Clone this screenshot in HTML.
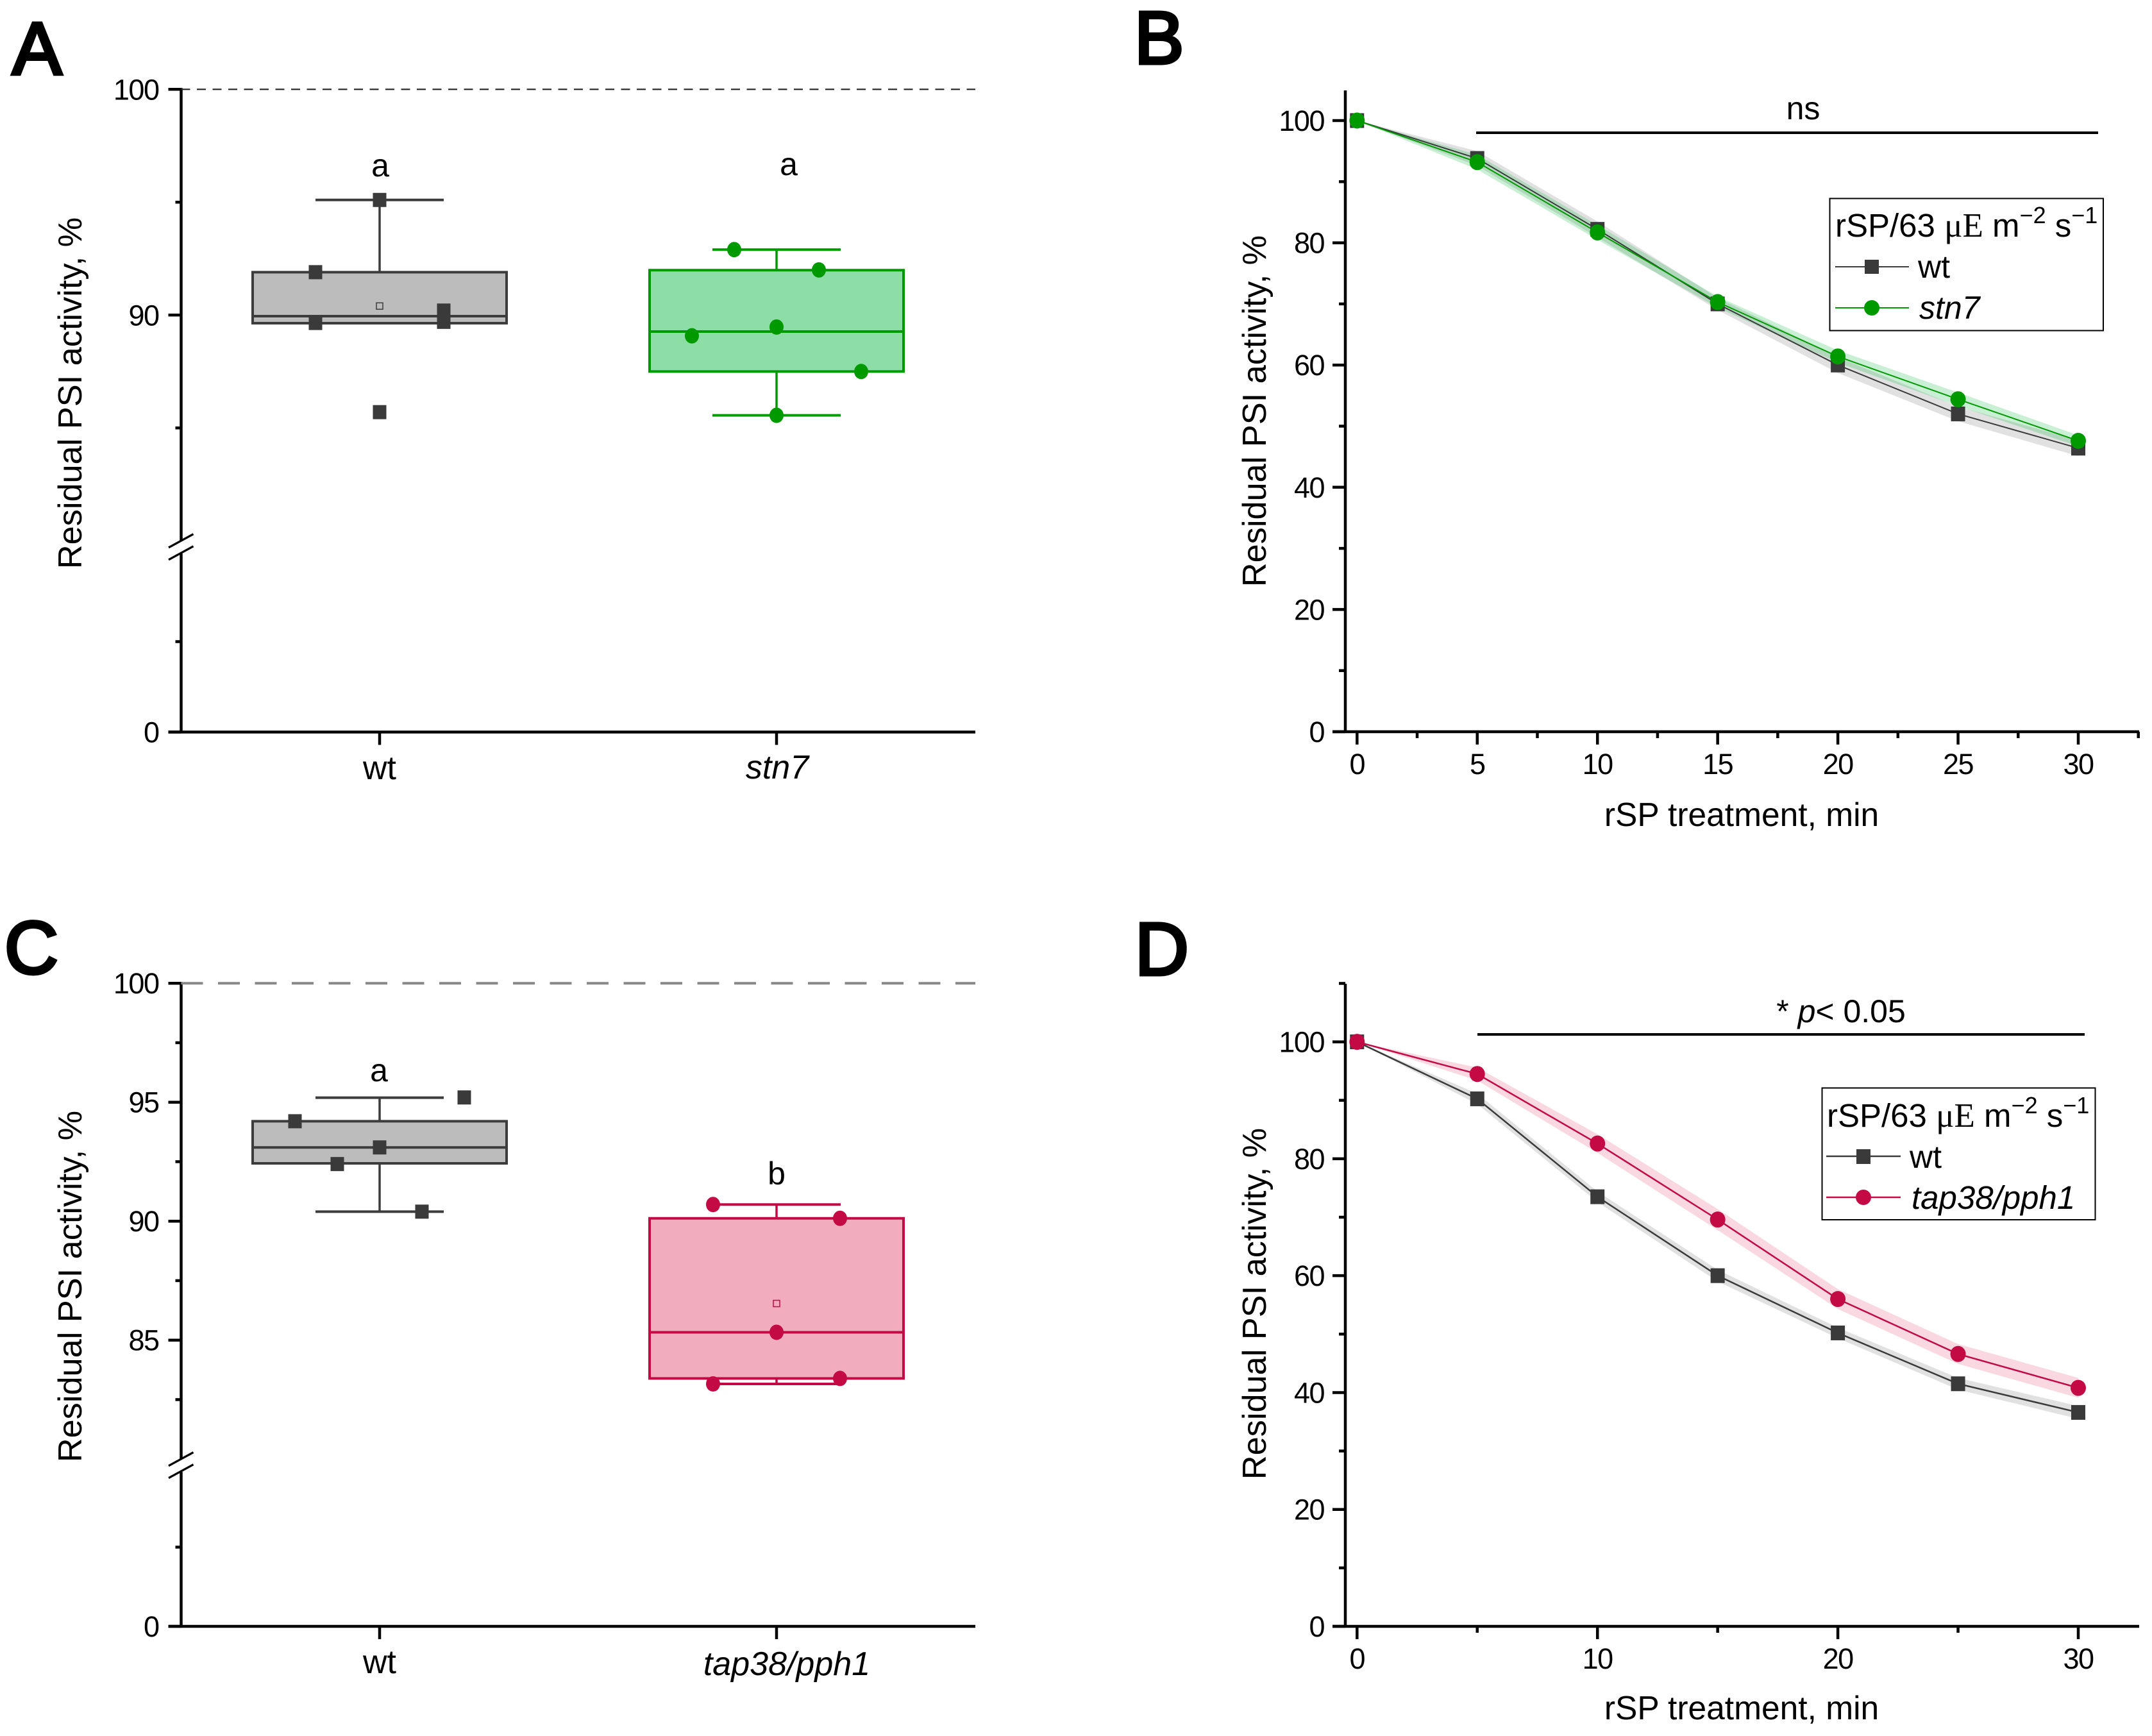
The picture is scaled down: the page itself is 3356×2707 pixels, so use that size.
<!DOCTYPE html>
<html lang="en">
<head>
<meta charset="utf-8">
<title>Residual PSI activity panels</title>
<style>
html,body{margin:0;padding:0;background:#fff;}
svg{display:block;}
text{font-family:"Liberation Sans",Arial,sans-serif;fill:#000;}
.serif{font-family:"Liberation Serif","Times New Roman",serif;}
.letter{font-weight:normal;font-size:116px;stroke:#000;stroke-width:5px;}
.title{font-size:51.5px;}
.ytitle{font-size:52.3px;}
.leg{font-size:50px;}
.legt{font-size:51px;}
</style>
</head>
<body>
<svg id="figure" xmlns="http://www.w3.org/2000/svg" width="3356" height="2707" viewBox="0 0 3356 2707">
<rect x="0" y="0" width="3356" height="2707" fill="#ffffff"/>

<g id="panelA">
  <text class="letter" x="19" y="116">A</text>
  <text class="ytitle" transform="translate(127 613) rotate(-90)" text-anchor="middle">Residual PSI activity, %</text>
  <text class="leg" x="593" y="275" text-anchor="middle">a</text>
  <text class="leg" x="1230" y="273" text-anchor="middle">a</text>
</g>

<g id="panelB">
  <text class="letter" x="1769" y="99">B</text>
  <text class="ytitle" transform="translate(1974 641) rotate(-90)" text-anchor="middle">Residual PSI activity, %</text>
  <text class="title" x="2716" y="1288" text-anchor="middle">rSP treatment, min</text>
  <line x1="2302" y1="207" x2="3272" y2="207" stroke="#000" stroke-width="4"/>
  <text class="leg" x="2812" y="186" text-anchor="middle">ns</text>
</g>

<g id="panelC">
  <text class="letter" x="7" y="1518">C</text>
  <text class="ytitle" transform="translate(127 2006) rotate(-90)" text-anchor="middle">Residual PSI activity, %</text>
  <text class="leg" x="591" y="1686" text-anchor="middle">a</text>
  <text class="leg" x="1211" y="1847" text-anchor="middle">b</text>
</g>

<g id="panelD">
  <text class="letter" x="1770" y="1520">D</text>
  <text class="ytitle" transform="translate(1974 2033) rotate(-90)" text-anchor="middle">Residual PSI activity, %</text>
  <text class="title" x="2716" y="2681" text-anchor="middle">rSP treatment, min</text>
  <line x1="2304" y1="1613" x2="3251" y2="1613" stroke="#000" stroke-width="4"/>
  <text class="leg" x="2871" y="1594" text-anchor="middle">* <tspan font-style="italic">p</tspan>&lt; 0.05</text>
</g>

<g id="legendB">
  <rect x="2853.5" y="309.5" width="426.5" height="206" fill="#fff" stroke="#000" stroke-width="2"/>
  <text class="legt" x="2862" y="369">rSP/63 <tspan class="serif" font-size="53">μE</tspan> m<tspan font-size="36" dy="-21">−2</tspan><tspan dy="21"> s</tspan><tspan font-size="36" dy="-21">−1</tspan></text>
  <line x1="2862" y1="416" x2="2977" y2="416" stroke="#3a3a3a" stroke-width="2"/>
  <rect x="2908" y="405" width="22" height="22" fill="#3a3a3a"/>
  <text class="leg" x="2991" y="433">wt</text>
  <line x1="2862" y1="480" x2="2977" y2="480" stroke="#009a00" stroke-width="2"/>
  <circle cx="2919" cy="480" r="12" fill="#009a00"/>
  <text class="leg" x="2993" y="497" font-style="italic">stn7</text>
</g>

<g id="legendD">
  <rect x="2841.5" y="1696.5" width="426" height="205.5" fill="#fff" stroke="#000" stroke-width="2"/>
  <text class="legt" x="2849" y="1757">rSP/63 <tspan class="serif" font-size="53">μE</tspan> m<tspan font-size="36" dy="-21">−2</tspan><tspan dy="21"> s</tspan><tspan font-size="36" dy="-21">−1</tspan></text>
  <line x1="2848" y1="1803" x2="2964" y2="1803" stroke="#3a3a3a" stroke-width="2.5"/>
  <rect x="2895" y="1792" width="22" height="23" fill="#3a3a3a"/>
  <text class="leg" x="2978" y="1821">wt</text>
  <line x1="2848" y1="1867" x2="2964" y2="1867" stroke="#c40a45" stroke-width="2.5"/>
  <circle cx="2906" cy="1867" r="12" fill="#c40a45"/>
  <text class="legt" x="2981" y="1885" font-style="italic">tap38/pph1</text>
</g>
</svg>

<script>
/* ---------- Panel A data ---------- */
const aCategories = ['wt', 'stn7'];
const aTickLabels = [100, 90, 0];
const aMinorTicks = [95, 85, 10];
const aWtValues = [91.9, 89.65, 95.1, 85.7, 90.2, 89.7];
const aWtSlots = [-1, -1, 0, 0, 1, 1];
const aWtBox = [89.64, 89.95, 91.9, 89.64, 95.1];
const aWtMean = [90.4];
const aStnValues = [92.9, 92.0, 89.08, 89.47, 87.5, 85.56];
const aStnSlots = [-1, 1, -2, 0, 2, 0];
const aStnBox = [87.5, 89.27, 91.99, 85.56, 92.9];
const aStnMean = [];

/* ---------- Panel C data ---------- */
const cCategories = ['wt', 'tap38/pph1'];
const cTickLabels = [100, 95, 90, 85, 0];
const cMinorTicks = [97.5, 92.5, 87.5, 82.5, 10];
const cWtValues = [94.2, 92.4, 93.1, 90.4, 95.2];
const cWtSlots = [-2, -1, 0, 1, 2];
const cWtBox = [92.43, 93.1, 94.2, 90.4, 95.19];
const cWtMean = [];
const cTapValues = [90.7, 90.12, 85.33, 83.16, 83.39];
const cTapSlots = [-1, 1, 0, -1, 1];
const cTapBox = [83.39, 85.33, 90.12, 83.16, 90.7];
const cTapMean = [86.54];

/* ---------- Panel B data ---------- */
const bMinutes = [0, 5, 10, 15, 20, 25, 30];
const bWtValues = [100, 93.8, 82.2, 70, 60, 52, 46.4];
const bWtError = [0, 1.2, 1.3, 1.0, 1.3, 1.2, 1.3];
const bStnValues = [100, 93.2, 81.7, 70.3, 61.4, 54.4, 47.6];
const bStnError = [0, 1.2, 1.2, 0.9, 1.0, 1.1, 0.9];
const bXMajor = [0, 5, 10, 15, 20, 25, 30];
const bXMinor = [2.5, 7.5, 12.5, 17.5, 22.5, 27.5, 32.5];
const bYMajor = [0, 20, 40, 60, 80, 100];
const bYMinor = [10, 30, 50, 70, 90];

/* ---------- Panel D data ---------- */
const dMinutes = [0, 5, 10, 15, 20, 25, 30];
const dWtValues = [100, 90.25, 73.5, 60, 50.2, 41.5, 36.6];
const dWtError = [0, 0.9, 0.9, 1.0, 0.9, 1.0, 1.1];
const dTapValues = [100, 94.5, 82.6, 69.6, 56, 46.6, 40.8];
const dTapError = [0, 1.1, 1.6, 1.8, 1.7, 1.7, 1.7];
const dXMajor = [0, 10, 20, 30];
const dXMinor = [5, 15, 25];
const dYMajor = [0, 20, 40, 60, 80, 100];
const dYMinor = [10, 30, 50, 70, 90, 110];

const NS = 'http://www.w3.org/2000/svg';
function mk(tag, attrs, parent, text) {
  const el = document.createElementNS(NS, tag);
  for (const k in attrs) { el.setAttribute(k, attrs[k]); }
  if (text !== undefined) { el.textContent = text; }
  parent.appendChild(el);
  return el;
}

/* scale factories */
function brokenY(y100, upper, y0, lower) {
  return function (v) { return v >= 80 ? y100 + (100 - v) * upper : y0 - v * lower; };
}
function linearX(x0, pxPerUnit) {
  return function (v) { return x0 + v * pxPerUnit; };
}
function linearY(y0, pxPerUnit) {
  return function (v) { return y0 - v * pxPerUnit; };
}
const BLACK = '#000';
const AXIS_W = 4.5;

/* ---------- Box panels ---------- */
function drawBoxAxes(g, y, xLeft, xRight, majors, minors, catX, cats, catBaselines, dash) {
  const yBase = y(0), yTop = y(100), yBreak = y(80), gap = 19;
  const axisX = xLeft;

  const upper = mk('line', {x1: axisX, x2: axisX, y1: yTop - 2, y2: yBreak - gap / 2 + 9, stroke: BLACK, 'stroke-width': AXIS_W}, g);
  
  

  const lower = mk('line', {x1: axisX, x2: axisX, y1: yBreak + gap + 1, y2: yBase, stroke: BLACK, 'stroke-width': AXIS_W}, g);
  
  

  [0, gap].forEach(function (off) {
    const s = mk('line', {x1: axisX - 19.5, x2: axisX + 19, y1: yBreak + off + 10.5, y2: yBreak + off - 10.5, stroke: BLACK, 'stroke-width': 3.2}, g);
    
    
  });

  const xAxis = mk('line', {x1: axisX - 20, x2: xRight, y1: yBase, y2: yBase, stroke: BLACK, 'stroke-width': AXIS_W}, g);
  
  

  const ref = mk('line', {x1: axisX, x2: xRight, y1: yTop, y2: yTop, stroke: dash.color, 'stroke-width': dash.width, 'stroke-dasharray': dash.pattern}, g);
  
  

  majors.forEach(function (v) {
    const t = mk('line', {x1: axisX - 20, x2: axisX, y1: y(v), y2: y(v), stroke: BLACK, 'stroke-width': AXIS_W}, g);
    
    
    const l = mk('text', {x: axisX - 35, y: y(v) + 16, 'text-anchor': 'end', 'font-size': 45, 'letter-spacing': -1.5}, g, String(v));
    
    
  });
  minors.forEach(function (v) {
    const t = mk('line', {x1: axisX - 9, x2: axisX, y1: y(v), y2: y(v), stroke: BLACK, 'stroke-width': AXIS_W}, g);
    
    
  });
  cats.forEach(function (c, i) {
    const t = mk('line', {x1: catX(i), x2: catX(i), y1: yBase, y2: yBase + 20, stroke: BLACK, 'stroke-width': AXIS_W}, g);
    
    
    const lx = i === 0 ? catX(i) : catX(i) + (c.length > 5 ? 16 : 1);
    const l = mk('text', {x: lx, y: catBaselines[i], 'text-anchor': 'middle', 'font-size': 52, 'font-style': i === 0 ? 'normal' : 'italic'}, g, c);
    
    
  });
}

/* boxStats = [q1, median, q3, whiskerLow, whiskerHigh] */
function drawBox(g, name, y, cx, boxStats, means, values, slots, slotGap, style) {
  const halfBox = 198, halfCap = 100;
  const q1 = boxStats[0], med = boxStats[1], q3 = boxStats[2], wLow = boxStats[3], wHigh = boxStats[4];

  const wU = mk('line', {x1: cx, x2: cx, y1: y(wHigh), y2: y(q3), stroke: style.stroke, 'stroke-width': 3.5}, g);
  
  

  const wL = mk('line', {x1: cx, x2: cx, y1: y(q1), y2: y(wLow), stroke: style.stroke, 'stroke-width': 3.5}, g);
  
  

  const capU = mk('line', {x1: cx - halfCap, x2: cx + halfCap, y1: y(wHigh), y2: y(wHigh), stroke: style.stroke, 'stroke-width': 4}, g);
  
  

  const capL = mk('line', {x1: cx - halfCap, x2: cx + halfCap, y1: y(wLow), y2: y(wLow), stroke: style.stroke, 'stroke-width': 4}, g);
  
  

  const box = mk('rect', {x: cx - halfBox, y: y(q3), width: 2 * halfBox, height: y(q1) - y(q3), fill: style.fill, stroke: style.stroke, 'stroke-width': 4}, g);
  
  

  const m = mk('line', {x1: cx - halfBox, x2: cx + halfBox, y1: y(med), y2: y(med), stroke: style.stroke, 'stroke-width': 4}, g);
  
  

  means.forEach(function (v) {
    const mean = mk('rect', {x: cx - 5, y: y(v) - 5, width: 10, height: 10, fill: 'none', stroke: style.stroke, 'stroke-width': 1.5}, g);
    
    
  });

  values.forEach(function (v, i) {
    const px = cx + slots[i] * slotGap;
    let p;
    if (style.marker === 'square') {
      p = mk('rect', {x: px - 10.5, y: y(v) - 11, width: 21, height: 22, fill: style.point}, g);
    } else {
      p = mk('ellipse', {cx: px, cy: y(v), rx: 11, ry: 12, fill: style.point}, g);
    }
    
    
  });
}

const greyStyle = {fill: '#bcbcbc', stroke: '#3c3c3c', point: '#3a3a3a', marker: 'square'};
const greenStyle = {fill: '#8cdda6', stroke: '#009a00', point: '#009a00', marker: 'circle'};
const redStyle = {fill: '#f1acbe', stroke: '#c40a45', point: '#c40a45', marker: 'circle'};

const catXBox = function (i) { return 592 + i * 619; };

const gA = document.getElementById('panelA');
const yA = brokenY(139.3, 35.2, 1141.5, 14.1);
drawBoxAxes(gA, yA, 282.5, 1521, aTickLabels, aMinorTicks, catXBox, aCategories, [1215, 1214],
  {color: '#222', width: 2.2, pattern: '14 10.5'});
drawBox(gA, 'wt-box', yA, catXBox(0), aWtBox, aWtMean, aWtValues, aWtSlots, 100, greyStyle);
drawBox(gA, 'stn7-box', yA, catXBox(1), aStnBox, aStnMean, aStnValues, aStnSlots, 66, greenStyle);

const gC = document.getElementById('panelC');
const yC = brokenY(1533.2, 37.1, 2536, 12.35);
drawBoxAxes(gC, yC, 282.5, 1521, cTickLabels, cMinorTicks, catXBox, cCategories, [2609, 2612],
  {color: '#888', width: 4, pattern: '34 23.5'});
drawBox(gC, 'wt-box', yC, catXBox(0), cWtBox, cWtMean, cWtValues, cWtSlots, 66, greyStyle);
drawBox(gC, 'tap38-box', yC, catXBox(1), cTapBox, cTapMean, cTapValues, cTapSlots, 99, redStyle);

/* ---------- Line panels ---------- */
function drawLineAxes(g, x, y, axisX, yTop, xRight, xMajor, xMinor, yMajor, yMinor) {
  const yBase = y(0);
  const ya = mk('line', {x1: axisX, x2: axisX, y1: yTop, y2: yBase, stroke: BLACK, 'stroke-width': AXIS_W}, g);
  
  

  const xa = mk('line', {x1: axisX - 20, x2: xRight, y1: yBase, y2: yBase, stroke: BLACK, 'stroke-width': AXIS_W}, g);
  
  

  yMajor.forEach(function (v) {
    const t = mk('line', {x1: axisX - 20, x2: axisX, y1: y(v), y2: y(v), stroke: BLACK, 'stroke-width': AXIS_W}, g);
    
    
    const l = mk('text', {x: axisX - 33, y: y(v) + 16, 'text-anchor': 'end', 'font-size': 45, 'letter-spacing': -1.5}, g, String(v));
    
    
  });
  yMinor.forEach(function (v) {
    const t = mk('line', {x1: axisX - 10, x2: axisX, y1: y(v), y2: y(v), stroke: BLACK, 'stroke-width': AXIS_W}, g);
    
    
  });
  xMajor.forEach(function (v) {
    const t = mk('line', {x1: x(v), x2: x(v), y1: yBase, y2: yBase + 20, stroke: BLACK, 'stroke-width': AXIS_W}, g);
    
    
    const l = mk('text', {x: x(v), y: yBase + 66, 'text-anchor': 'middle', 'font-size': 45, 'letter-spacing': -1.5}, g, String(v));
    
    
  });
  xMinor.forEach(function (v) {
    const t = mk('line', {x1: x(v), x2: x(v), y1: yBase, y2: yBase + 10, stroke: BLACK, 'stroke-width': AXIS_W}, g);
    
    
  });
}

function drawBand(g, name, x, y, xs, vals, errs, fill) {
  const top = xs.map(function (m, i) { return x(m) + ',' + y(vals[i] + errs[i]); });
  const bot = xs.map(function (m, i) { return x(m) + ',' + y(vals[i] - errs[i]); }).reverse();
  const b = mk('polygon', {points: top.concat(bot).join(' '), fill: fill}, g);
  
  
}
function drawLine(g, name, x, y, xs, vals, color, width) {
  const pts = xs.map(function (m, i) { return x(m) + ',' + y(vals[i]); }).join(' ');
  const l = mk('polyline', {points: pts, fill: 'none', stroke: color, 'stroke-width': width}, g);
  
  
}
function drawSquares(g, name, x, y, xs, vals, color) {
  xs.forEach(function (m, i) {
    const s = mk('rect', {x: x(m) - 11, y: y(vals[i]) - 11.5, width: 22, height: 23, fill: color}, g);
    
    
  });
}
function drawCircles(g, name, x, y, xs, vals, color) {
  xs.forEach(function (m, i) {
    const c = mk('ellipse', {cx: x(m), cy: y(vals[i]), rx: 12, ry: 12.5, fill: color}, g);
    
    
  });
}

const xLine = linearX(2116.3, 37.49);

const gB = document.getElementById('panelB');
const yB = linearY(1141, 9.53);
drawLineAxes(gB, xLine, yB, 2098, 141, 3336, bXMajor, bXMinor, bYMajor, bYMinor);
drawBand(gB, 'wt', xLine, yB, bMinutes, bWtValues, bWtError, 'rgba(120,120,120,0.22)');
drawBand(gB, 'stn7', xLine, yB, bMinutes, bStnValues, bStnError, 'rgba(0,180,50,0.21)');
drawLine(gB, 'wt', xLine, yB, bMinutes, bWtValues, '#3a3a3a', 2);
drawLine(gB, 'stn7', xLine, yB, bMinutes, bStnValues, '#009a00', 2);
drawSquares(gB, 'wt', xLine, yB, bMinutes, bWtValues, '#3a3a3a');
drawCircles(gB, 'stn7', xLine, yB, bMinutes, bStnValues, '#009a00');

const gD = document.getElementById('panelD');
const yD = linearY(2536, 9.114);
drawLineAxes(gD, xLine, yD, 2098, 1534, 3336, dXMajor, dXMinor, dYMajor, dYMinor);
drawBand(gD, 'wt', xLine, yD, dMinutes, dWtValues, dWtError, 'rgba(120,120,120,0.22)');
drawBand(gD, 'tap38', xLine, yD, dMinutes, dTapValues, dTapError, 'rgba(220,40,90,0.18)');
drawLine(gD, 'wt', xLine, yD, dMinutes, dWtValues, '#3a3a3a', 2.5);
drawLine(gD, 'tap38', xLine, yD, dMinutes, dTapValues, '#c40a45', 2.5);
drawSquares(gD, 'wt', xLine, yD, dMinutes, dWtValues, '#3a3a3a');
drawCircles(gD, 'tap38', xLine, yD, dMinutes, dTapValues, '#c40a45');

/* keep legends above the data */
const fig = document.getElementById('figure');
fig.appendChild(document.getElementById('legendB'));
fig.appendChild(document.getElementById('legendD'));
</script>
</body>
</html>
